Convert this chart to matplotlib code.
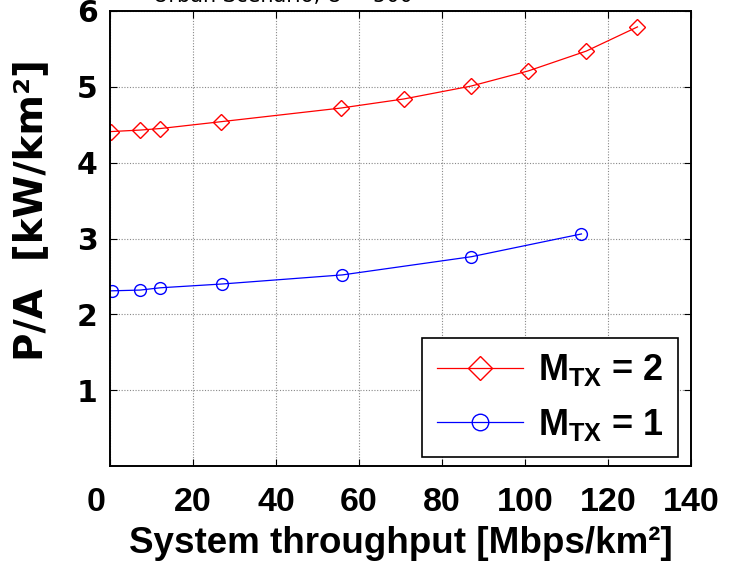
import matplotlib
matplotlib.use("Agg")
import matplotlib.pyplot as plt
from matplotlib.transforms import blended_transform_factory

plt.rcParams['mathtext.fontset'] = 'custom'
plt.rcParams['mathtext.rm'] = 'Liberation Sans:bold'
plt.rcParams['mathtext.bf'] = 'Liberation Sans:bold'
plt.rcParams['mathtext.it'] = 'Liberation Sans:bold'

# Data
x_m2 = [0.2, 7.3, 12.1, 26.7, 55.6, 70.8, 87.0, 100.8, 114.7, 127.1]
y_m2 = [4.41, 4.43, 4.45, 4.54, 4.72, 4.84, 5.01, 5.21, 5.47, 5.79]
x_m1 = [0.4, 7.3, 12.1, 27.0, 56.0, 87.1, 113.6]
y_m1 = [2.31, 2.32, 2.35, 2.40, 2.52, 2.76, 3.06]
xticks = [0, 20, 40, 60, 80, 100, 120, 140]
yticks = [1, 2, 3, 4, 5, 6]
labels = [r'$\mathbf{M_{TX}}$ = 2', r'$\mathbf{M_{TX}}$ = 1']

fig = plt.figure(figsize=(7.35, 5.63), dpi=100)
ax = fig.add_axes([110/735, 97/563, 581/735, 455/563])

ax.plot(x_m2, y_m2, color='red', lw=0.9, marker='D', ms=8.5, mfc='none',
        mec='red', mew=1.0, label=labels[0])
ax.plot(x_m1, y_m1, color='blue', lw=0.9, marker='o', ms=8.5, mfc='none',
        mec='blue', mew=1.0, label=labels[1])

ax.set_xlim(0, 140)
ax.set_ylim(0, 6)
ax.set_xticks(xticks)
ax.set_yticks(yticks)
ax.set_xticklabels([''] + [str(v) for v in xticks[1:]], fontfamily='Liberation Sans',
                   fontweight='bold', fontsize=24.5)
ax.set_yticklabels([str(v) for v in yticks], fontfamily='DejaVu Sans',
                   fontweight='bold', fontsize=21.5)
# the "0" label sits left of its tick in the reference
tr = blended_transform_factory(ax.transData, ax.transAxes)
ax.annotate(str(xticks[0]), xy=(xticks[0], 0), xycoords=tr, xytext=(-10, -15),
            textcoords='offset points', ha='center', va='top',
            fontfamily='Liberation Sans', fontweight='bold', fontsize=24.5)

ax.tick_params(direction='in', length=5, width=0.8, top=True, right=True)
ax.tick_params(axis='x', pad=15)
ax.tick_params(axis='y', pad=9)
ax.grid(True, color='#888888', linestyle=(0, (1, 1.5)), linewidth=0.8)
for s in ax.spines.values():
    s.set_linewidth(1.4)
    s.set_color('black')

ax.set_xlabel('System throughput [Mbps/km²]', fontfamily='Liberation Sans',
              fontweight='bold', fontsize=26.5, labelpad=6)
ax.set_ylabel('P/A  [kW/km²]', fontfamily='DejaVu Sans', fontweight='bold',
              fontsize=28)
ax.yaxis.set_label_coords(-0.103, 0.563)

fig.text(283/735, 1 - 1.8/563, 'Urban Scenario, U = 500', ha='center',
         va='baseline', fontsize=15, fontfamily='DejaVu Sans')

leg = ax.legend(loc='lower right', bbox_to_anchor=(678/735, 106/563),
                bbox_transform=fig.transFigure, fancybox=False,
                edgecolor='black', framealpha=1, handlelength=2.4,
                prop={'family': 'Liberation Sans', 'weight': 'bold', 'size': 26},
                borderpad=0.4, labelspacing=0.5, handletextpad=0.4,
                borderaxespad=0, markerscale=1.4)
leg.get_frame().set_linewidth(1.2)

fig.savefig('out.png', dpi=100)
